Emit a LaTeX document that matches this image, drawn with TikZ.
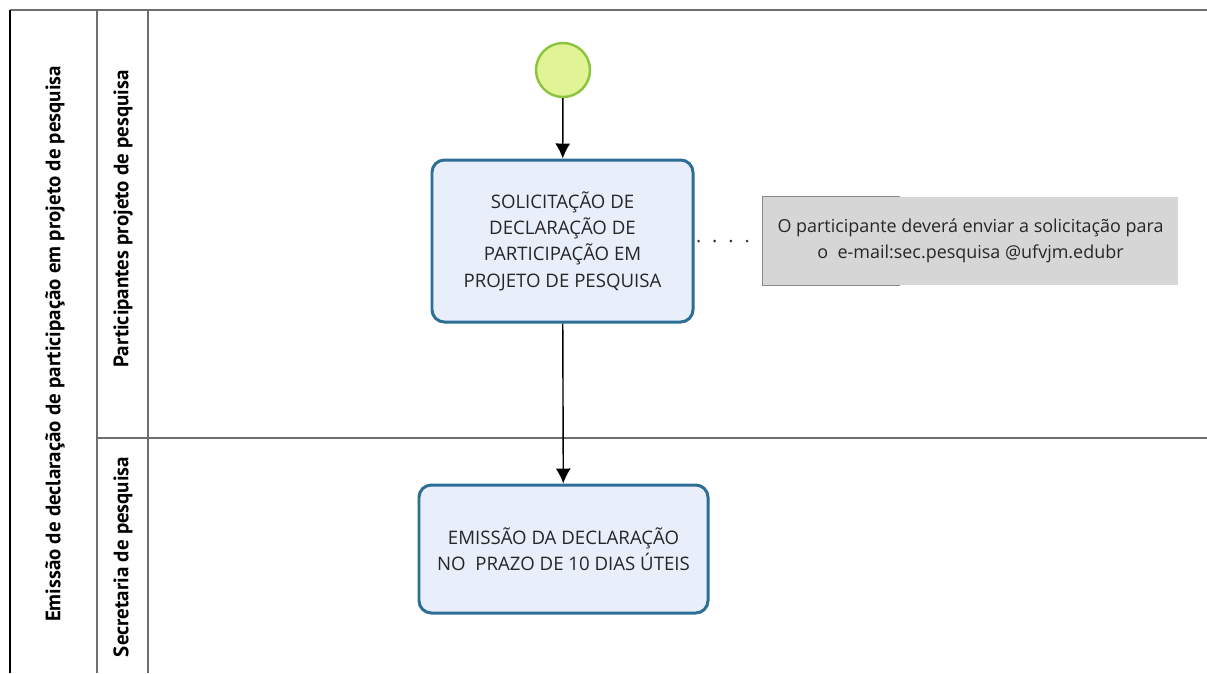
\documentclass[tikz,border=0pt]{standalone}
\usepackage{fontspec}
\setmainfont{Open Sans}
\newfontfamily\lanefont{PT Sans}
\usepackage{xcolor}
\usetikzlibrary{calc}
\usetikzlibrary{arrows.meta}
\definecolor{taskfill}{HTML}{E9EEFB}
\definecolor{taskline}{HTML}{2C6E96}
\definecolor{startfill}{HTML}{E0F495}
\definecolor{startline}{HTML}{8CC43F}
\definecolor{notefill}{HTML}{D6D6D6}
\definecolor{noteline}{HTML}{8A8A8A}
\definecolor{laneline}{HTML}{6E6E6E}
\tikzstyle{taskbox}=[draw=taskline,fill=taskfill,line width=1.7pt,rounded corners=7pt,align=center,text=black!85,font=\fontsize{10.6}{15}\selectfont]
\tikzstyle{startevent}=[circle,draw=startline,fill=startfill,line width=1.4pt,minimum size=10.8mm,inner sep=0pt]
\tikzstyle{notebox}=[fill=notefill,minimum width=83mm,minimum height=17.6mm,align=center,text=black!85,font=\fontsize{10.2}{14.7}\selectfont]
\tikzstyle{lanelabel}=[rotate=90,font=\lanefont\bfseries\fontsize{11.9}{13}\selectfont]
\tikzstyle{seqflow}=[draw=black,line width=0.8pt,-{Latex[length=3mm,width=3mm]}]
\tikzstyle{assocflow}=[draw=black!80,line width=1.7pt,line cap=round,dash pattern=on 0pt off 9.2pt]

\begin{document}
\begin{tikzpicture}[x=0.2mm,y=-0.2mm]
  \useasboundingbox (0,0) rectangle (1207,673);
  % pool and lanes
  \coordinate (pooltl) at (10,10);
  \coordinate (pooltr) at (1207,10);
  \coordinate (poolbl) at (10,673);
  \coordinate (lanetop) at (97,10);
  \coordinate (lanebot) at (97,673);
  \coordinate (headtop) at (148,10);
  \coordinate (headbot) at (148,673);
  \coordinate (sepl) at (97,438);
  \coordinate (sepr) at (1207,438);
  \draw[laneline,line width=1pt] (pooltl) -- (pooltr);
  \draw[black,line width=1.4pt] (pooltl) -- (poolbl);
  \draw[laneline,line width=1pt] (lanetop) -- (lanebot);
  \draw[laneline,line width=1pt] (headtop) -- (headbot);
  \draw[laneline,line width=1pt] (sepl) -- (sepr);
  \node[lanelabel] (pool) at (55,344) {Emissão de declaração de participação em projeto de pesquisa};
  \node[lanelabel] (lane1) at (123,219) {Participantes projeto de pesquisa};
  \node[lanelabel] (lane2) at (123,557) {Secretaria de pesquisa};
  % flow
  \node[startevent] (start) at (563,70) {};
  \node[taskbox,minimum width=52.2mm,minimum height=32.4mm] (solic) at (562.5,241)
    {SOLICITAÇÃO DE\\DECLARAÇÃO DE\\PARTICIPAÇÃO EM\\PROJETO DE PESQUISA};
  \node[taskbox,minimum width=57.8mm,minimum height=25.6mm] (emiss) at (563.5,549)
    {EMISSÃO DA DECLARAÇÃO\\NO~~PRAZO DE 10 DIAS ÚTEIS};
  \node[notebox] (note) at (970.5,241)
    {O participante deverá enviar a solicitação para\\o~~e-mail:sec.pesquisa @ufvjm.edubr};
  \draw[noteline,line width=0.8pt] ($(note.north west)+(137,0)$) -- (note.north west)
    -- (note.south west) -- ($(note.south west)+(137,0)$);
  \draw[seqflow] (start) -- (solic);
  \draw[seqflow] (solic) -- (emiss);
  \path[assocflow] ($(solic.east)+(4,0)$) -- (note.west);
\end{tikzpicture}
\end{document}
